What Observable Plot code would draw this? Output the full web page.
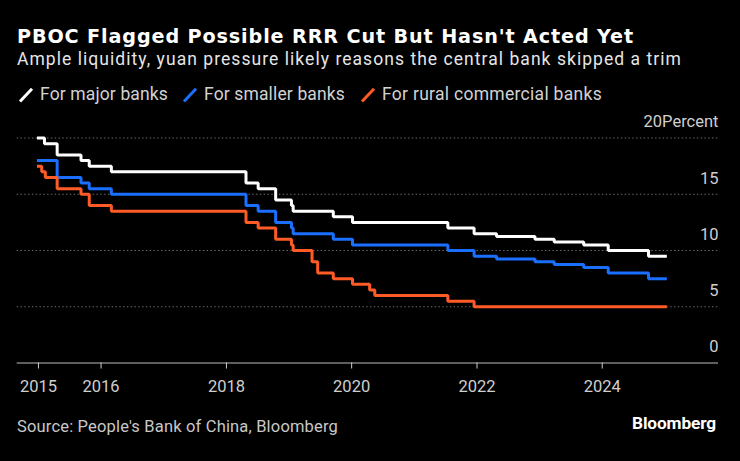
<!DOCTYPE html>
<html>
<head>
<meta charset="utf-8">
<script src="https://cdn.jsdelivr.net/npm/d3@7"></script>
<script src="https://cdn.jsdelivr.net/npm/@observablehq/plot@0.6"></script>
<style>
  html, body { margin: 0; padding: 0; background: #000; }
  #wrap { position: relative; width: 740px; height: 461px; background: #000; overflow: hidden; font-family: Roboto, "Liberation Sans", sans-serif; }
  .t { position: absolute; white-space: nowrap; line-height: 1; }
  #title { left: 17px; top: 27px; font-family: "DejaVu Sans", sans-serif; font-weight: bold; font-size: 19.2px; color: #fff; }
  #subtitle { left: 17px; top: 51.3px; font-size: 17.5px; color: #e6e6e6; }
  .lg { top: 86.2px; font-size: 17.5px; color: #d2d2d2; }
  .sw { position: absolute; top: 88px; }
  #chart { position: absolute; left: 0; top: 108px; }
  #source { left: 17px; top: 419px; font-size: 16.5px; color: #c8c8c8; }
  #brand { left: 632px; top: 414.8px; font-size: 17.3px; font-weight: bold; color: #fff; }
</style>
</head>
<body>
<div id="wrap">
  <div class="t" id="title">PBOC Flagged Possible RRR Cut But Hasn't Acted Yet</div>
  <div class="t" id="subtitle">Ample liquidity, yuan pressure likely reasons the central bank skipped a trim</div>
  <div id="legend"></div>
  <div id="chart"></div>
  <div class="t" id="source">Source: People's Bank of China, Bloomberg</div>
  <div class="t" id="brand">Bloomberg</div>
</div>
<script>
// ---- data ----
const seriesNames = ["For major banks", "For smaller banks", "For rural commercial banks"];
const seriesColors = ["#ffffff", "#1a6fff", "#ff5b27"];

const majorDates = ["2015-01-01","2015-02-05","2015-04-20","2015-09-06","2015-10-24","2016-03-01","2018-04-25","2018-07-05","2018-10-15","2019-01-15","2019-01-25","2019-09-16","2020-01-06","2021-07-15","2021-12-15","2022-04-25","2022-12-05","2023-03-27","2023-09-15","2024-02-05","2024-09-27","2025-01-03"];
const majorValues = [20.0,19.5,18.5,18.0,17.5,17.0,16.0,15.5,14.5,14.0,13.5,13.0,12.5,12.0,11.5,11.25,11.0,10.75,10.5,10.0,9.5,9.5];

const smallerDates = ["2015-01-01","2015-04-20","2015-09-06","2015-10-24","2016-03-01","2018-04-25","2018-07-05","2018-10-15","2019-01-15","2019-01-25","2019-09-16","2020-01-06","2021-07-15","2021-12-15","2022-04-25","2022-12-05","2023-03-27","2023-09-15","2024-02-05","2024-09-27","2025-01-03"];
const smallerValues = [18.0,16.5,16.0,15.5,15.0,14.0,13.5,12.5,12.0,11.5,11.0,10.5,10.0,9.5,9.25,9.0,8.75,8.5,8.0,7.5,7.5];

const ruralDates = ["2015-01-01","2015-01-20","2015-02-10","2015-04-20","2015-09-06","2015-10-24","2016-03-01","2018-04-25","2018-07-05","2018-10-15","2019-01-15","2019-01-25","2019-05-15","2019-06-17","2019-09-16","2020-01-06","2020-04-15","2020-05-15","2021-07-15","2021-12-15","2025-01-03"];
const ruralValues = [17.5,17.0,16.5,15.5,15.0,14.0,13.5,12.5,12.0,11.0,10.5,10.0,9.0,8.0,7.5,7.0,6.5,6.0,5.5,5.0,5.0];

const xTickYears = [2015, 2016, 2018, 2020, 2022, 2024];
const yTicks = [0, 5, 10, 15, 20];
const yGrid = [5, 10, 15, 20];
const yUnit = "Percent";

// ---- build table ----
const parse = d3.utcParse("%Y-%m-%d");
const rows = [];
[[majorDates, majorValues], [smallerDates, smallerValues], [ruralDates, ruralValues]].forEach(([ds, vs], i) => {
  ds.forEach((d, j) => rows.push({ series: seriesNames[i], date: parse(d), value: vs[j] }));
});

// ---- text width fitting (letter-spacing only) ----
function fit(el, target) {
  const n = el.textContent.length;
  el.style.letterSpacing = "0px";
  const w = el.getBoundingClientRect().width;
  el.style.letterSpacing = ((target - w) / n) + "px";
}

// ---- legend ----
const legend = document.getElementById("legend");
const swX = [18, 182, 360];
const txX = [40, 204, 382];
const txW = [128, 141, 220];
seriesNames.forEach((n, i) => {
  const sw = document.createElementNS("http://www.w3.org/2000/svg", "svg");
  sw.setAttribute("class", "sw");
  sw.setAttribute("width", "16"); sw.setAttribute("height", "15");
  sw.style.left = swX[i] + "px";
  sw.innerHTML = `<line x1="2" y1="13.5" x2="14" y2="0.8" stroke="${seriesColors[i]}" stroke-width="3"/>`;
  legend.appendChild(sw);
  const tx = document.createElement("div");
  tx.className = "t lg";
  tx.style.left = txX[i] + "px";
  tx.textContent = n;
  legend.appendChild(tx);
  fit(tx, txW[i]);
});

fit(document.getElementById("title"), 617);
fit(document.getElementById("subtitle"), 665);
fit(document.getElementById("source"), 321);
fit(document.getElementById("brand"), 84);

// ---- chart ----
const chart = Plot.plot({
  width: 740,
  height: 296,
  marginLeft: 16.7,
  marginRight: 22,
  marginTop: 29.5,
  marginBottom: 41.5,
  style: { background: "transparent", color: "#cfcfcf", fontFamily: "Roboto, sans-serif", fontSize: "16.5px", overflow: "visible" },
  x: { type: "utc", domain: [parse("2014-08-30"), parse("2025-11-09")] },
  y: { domain: [0, 20] },
  color: { domain: seriesNames, range: seriesColors },
  marks: [
    Plot.ruleY(yGrid, { stroke: "#6e6e6e", strokeWidth: 1, strokeDasharray: "1.4,2.4" }),
    Plot.ruleY([0], { stroke: "#bdbdbd", strokeWidth: 1 }),
    Plot.axisX({
      ticks: xTickYears.map(y => new Date(Date.UTC(y, 0, 1))),
      tickFormat: d3.utcFormat("%Y"),
      tickSize: 6, tickPadding: 11.5, stroke: "#cfcfcf", fill: "#cfcfcf", label: null, fontSize: 16.5
    }),
    Plot.axisY({
      anchor: "right", ticks: yTicks, tickSize: 0, tickPadding: 0, textAnchor: "end", dy: -16,
      tickFormat: d => d === 20 ? d + yUnit : String(d), fill: "#cfcfcf", label: null, fontSize: 16.5
    }),
    Plot.line(rows, {
      x: "date", y: "value", z: "series", stroke: "series", curve: "step-after",
      strokeWidth: 3, strokeLinejoin: "miter", strokeLinecap: "square"
    })
  ]
});
document.getElementById("chart").appendChild(chart);
</script>
</body>
</html>
